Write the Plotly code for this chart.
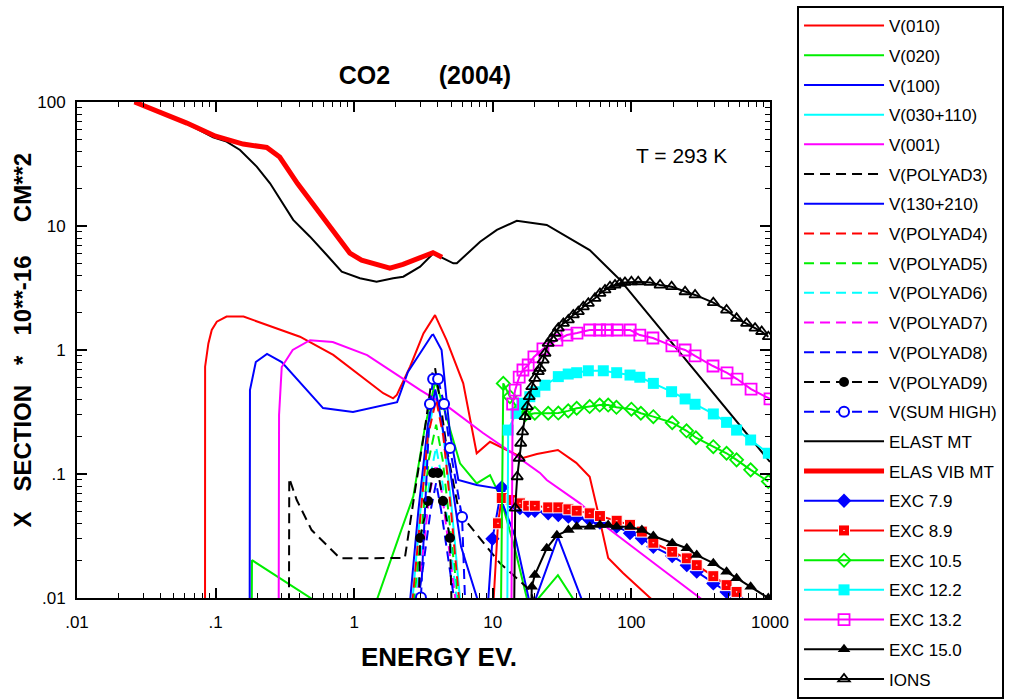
import plotly.graph_objects as go

FONT = "Liberation Sans, Arial, sans-serif"

# ---------------- data (energy eV, cross section 1e-16 cm^2) ----------------
E_v010 = [0.0839, 0.084, 0.0887, 0.0938, 0.102, 0.120, 0.159, 0.234, 0.406, 0.706, 1.23, 1.62, 1.91,
          2.03, 2.53, 3.16, 3.83, 4.64, 6.12, 7.65, 9.55, 13.3, 16.5, 20.8, 29.5, 40, 50, 57, 68, 87, 136, 170]
S_v010 = [0.005, 0.733, 1.13, 1.45, 1.69, 1.86, 1.86, 1.59, 1.28, 0.912, 0.573, 0.448, 0.408,
          0.434, 0.733, 1.36, 1.91, 1.2, 0.538, 0.147, 0.182, 0.151, 0.135, 0.145, 0.156, 0.123, 0.095, 0.051, 0.021, 0.0159, 0.01, 0.008]

E_v020 = [0.182, 0.183, 0.52, 1.45, 2.14, 2.67, 3.24, 3.85, 4.4, 5.8, 7.65, 9.55, 11.3, 14.5, 18.0, 19.8, 29.5, 40]
S_v020 = [0.005, 0.0202, 0.0095, 0.0095, 0.033, 0.066, 0.24, 0.56, 0.35, 0.122, 0.084, 0.098, 0.066, 0.0244, 0.009, 0.009, 0.0153, 0.009]

E_v100 = [0.176, 0.177, 0.195, 0.235, 0.30, 0.596, 0.98, 2.04, 2.44, 3.64, 3.72, 4.27, 4.91, 5.64, 7.65, 10.7,
          14.5, 18.5, 19.8, 29.5, 45]
S_v100 = [0.005, 0.475, 0.80, 0.93, 0.80, 0.34, 0.316, 0.38, 0.665, 1.32, 1.33, 1.0, 0.213, 0.0895, 0.0815, 0.0767,
          0.0312, 0.009, 0.009, 0.031, 0.009]

E_v030 = [2.5, 3.0, 3.5, 3.9, 4.3, 5.0, 5.9]
S_v030 = [0.005, 0.05, 0.25, 0.45, 0.25, 0.06, 0.008]

E_v001 = [0.285, 0.287, 0.30, 0.36, 0.48, 0.70, 1.24, 2.14, 3.0, 4.9, 8.5, 13.5, 21.9, 24.5, 42.6, 66.7, 110, 169, 313, 400]
S_v001 = [0.005, 0.3, 0.73, 1.0, 1.2, 1.16, 0.91, 0.605, 0.475, 0.34, 0.214, 0.150, 0.102, 0.0895, 0.058, 0.037, 0.0244, 0.0168, 0.01, 0.008]

E_p3 = [0.338, 0.34, 0.385, 0.493, 0.79, 2.32, 2.75, 3.25, 3.7, 3.83, 4.16, 4.67, 5.6, 6.6, 11.3, 18.5, 21]
S_p3 = [0.005, 0.0923, 0.0617, 0.0353, 0.0209, 0.021, 0.074, 0.24, 0.69, 0.72, 0.395, 0.156, 0.055, 0.040, 0.019, 0.0116, 0.008]

E_v130 = [2.4, 2.9, 3.4, 3.85, 4.3, 4.9, 5.9, 7.8, 8.5]
S_v130 = [0.005, 0.05, 0.25, 0.48, 0.25, 0.11, 0.026, 0.01, 0.007]

E_p4 = [2.5, 2.9, 3.4, 3.9, 4.4, 5.0, 5.8]
S_p4 = [0.005, 0.03, 0.2, 0.40, 0.2, 0.05, 0.008]

E_p5 = [2.55, 2.95, 3.45, 3.9, 4.35, 4.95, 5.7]
S_p5 = [0.005, 0.025, 0.13, 0.25, 0.13, 0.035, 0.008]

E_p6 = [2.6, 3.0, 3.5, 3.9, 4.3, 4.9, 5.6]
S_p6 = [0.005, 0.02, 0.09, 0.165, 0.09, 0.03, 0.008]

E_p7 = [2.6, 3.05, 3.5, 3.9, 4.3, 4.85, 5.5]
S_p7 = [0.005, 0.018, 0.07, 0.12, 0.07, 0.025, 0.008]

E_p8 = [2.65, 3.1, 3.55, 3.9, 4.25, 4.8, 5.4]
S_p8 = [0.005, 0.016, 0.05, 0.085, 0.05, 0.02, 0.008]

E_p9 = [2.9, 2.99, 3.41, 3.71, 4.03, 4.37, 4.91, 5.1]
S_p9 = [0.005, 0.0305, 0.0605, 0.102, 0.102, 0.0605, 0.0305, 0.005]

E_sum = [3.03, 3.52, 3.71, 4.03, 4.45, 4.91, 6.0, 6.4]
S_sum = [0.0101, 0.367, 0.583, 0.583, 0.367, 0.162, 0.045, 0.006]

E_elast = [0.026, 0.04, 0.062, 0.096, 0.120, 0.150, 0.198, 0.247, 0.363, 0.48, 0.634, 0.813, 1.10, 1.45, 1.91, 2.26,
           2.99, 3.73, 4.40, 5.19, 5.5, 8.1, 10.7, 14.9, 24.5, 34.1, 50, 74, 82.8, 1000]
S_elast = [100, 83, 67, 51.9, 47.9, 41, 30.1, 22.1, 11.2, 8.2, 5.84, 4.29, 3.79, 3.56, 3.79, 3.9,
           4.7, 6.03, 5.49, 5.0, 5.0, 7.47, 9.3, 11.0, 10.2, 8.2, 6.4, 4.16, 3.68, 0.125]

E_vibmt = [0.026, 0.040, 0.062, 0.1, 0.158, 0.234, 0.29, 0.39, 0.50, 0.70, 0.93, 1.13, 1.81, 2.25, 3.0, 3.7, 4.3]
S_vibmt = [100, 83, 67.6, 53, 45.8, 43, 36, 22, 15.3, 9.3, 6.05, 5.3, 4.58, 4.9, 5.6, 6.1, 5.6]

E_x79 = [8.9, 9.94, 11.6, 13.7, 15.7, 18, 20.1, 25.1, 29.7, 35.1, 40.3, 50, 59.3, 78.3, 97.7, 119, 144, 197, 251, 296, 390, 486, 574]
S_x79 = [0.005, 0.030, 0.078, 0.058, 0.053, 0.0505, 0.0505, 0.0482, 0.0467, 0.0453, 0.0446, 0.0425, 0.0405, 0.0376,
         0.0333, 0.0303, 0.0259, 0.0218, 0.0184, 0.0163, 0.0131, 0.0112, 0.00995]

E_x89 = [9.8, 10.9, 11.6, 13.7, 15.7, 18.0, 20.1, 25.1, 29.7, 35.1, 40.3, 50, 59.3, 78.3, 97.7, 119, 144, 197, 251, 296, 390, 486, 574]
S_x89 = [0.005, 0.040, 0.064, 0.0617, 0.058, 0.0555, 0.0555, 0.0538, 0.0538, 0.0519, 0.0506, 0.0482, 0.0458, 0.042,
         0.0389, 0.0343, 0.0279, 0.0236, 0.0209, 0.0184, 0.0150, 0.0127, 0.0112]

E_x105 = [11.4, 11.9, 13.3, 15.3, 17.1, 20.1, 25.1, 29.7, 35, 40.3, 50, 59, 68, 78, 100, 117, 144, 197, 250, 292, 390, 486, 574, 725, 973]
S_x105 = [0.005, 0.538, 0.42, 0.328, 0.30, 0.309, 0.309, 0.31, 0.323, 0.339, 0.35, 0.36, 0.36, 0.345, 0.333, 0.309,
          0.29, 0.259, 0.223, 0.196, 0.166, 0.147, 0.13, 0.108, 0.087]

E_x122 = [12.7, 12.9, 14.7, 16.2, 18.5, 20.1, 23.8, 29.7, 35, 40.3, 48.9, 62.7, 78.3, 97.7, 115, 144, 195, 244, 288, 390, 486, 574, 725, 973]
S_x122 = [0.005, 0.226, 0.308, 0.372, 0.42, 0.46, 0.52, 0.61, 0.64, 0.656, 0.68, 0.68, 0.656, 0.628, 0.603, 0.538,
          0.461, 0.403, 0.365, 0.305, 0.261, 0.226, 0.188, 0.147]

E_x132 = [13.6, 13.9, 14.5, 15.5, 16.5, 18, 19.8, 23, 29, 34.3, 40.5, 50, 59, 67, 79, 98, 115, 143, 196, 244, 288, 388, 490, 578, 730, 1000]
S_x132 = [0.005, 0.367, 0.475, 0.605, 0.69, 0.757, 0.88, 1.02, 1.2, 1.32, 1.37, 1.45, 1.45, 1.45, 1.45, 1.45, 1.32,
          1.25, 1.08, 1.0, 0.895, 0.743, 0.653, 0.583, 0.484, 0.403]

E_x150 = [18.8, 19.1, 20.1, 24.5, 29, 35.1, 40.3, 50, 59.3, 68, 78.3, 97.7, 119, 144, 197, 251, 296, 390, 486, 574, 725, 973]
S_x150 = [0.005, 0.0123, 0.0153, 0.0252, 0.032, 0.0353, 0.0376, 0.0376, 0.0388, 0.0388, 0.0376, 0.0376, 0.0353,
          0.0316, 0.0276, 0.0252, 0.0222, 0.0191, 0.0163, 0.0144, 0.0123, 0.0100]

E_ions = [14.2, 14.5, 15.0, 15.5, 15.9, 16.4, 17.1, 17.7, 18.3, 19.1, 20.1, 21.3, 21.9, 23.1, 23.8, 25.1, 26.6, 28.1,
          29.7, 32.3, 35.1, 38.1, 41.4, 45, 48.9, 54.6, 59.3, 64.5, 70.1, 76.2, 82.8, 89.9, 100, 112, 136, 161, 195,
          244, 288, 390, 486, 574, 678, 780, 871, 973]
S_ions = [0.005, 0.053, 0.095, 0.134, 0.177, 0.219, 0.29, 0.35, 0.42, 0.506, 0.591, 0.669, 0.711, 0.83, 0.94, 1.13,
          1.24, 1.36, 1.50, 1.64, 1.75, 1.92, 2.04, 2.23, 2.38, 2.61, 2.86, 3.05, 3.24, 3.34, 3.45, 3.51, 3.55, 3.55,
          3.51, 3.34, 3.24, 2.95, 2.78, 2.41, 2.10, 1.80, 1.64, 1.50, 1.41, 1.28]

X_TICKS = [0.01, 0.1, 1, 10, 100, 1000]
X_TICKTEXT = [".01", ".1", "1", "10", "100", "1000"]
Y_TICKS = [0.01, 0.1, 1, 10, 100]
Y_TICKTEXT = [".01", ".1", "1", "10", "100"]

RED, GREEN, BLUE, CYAN, MAG, BLK = "#ff0000", "#00ee00", "#0000ff", "#00ffff", "#ff00ff", "#000000"
DASH = "10px,6px"
LW = 2

fig = go.Figure()


def add(name, x, y, color, width=LW, dash="solid", symbol=None, msize=10, mcolor=None, mline=None, mlw=1.8):
    kw = dict(x=x, y=y, name=name, legendgroup=name,
              line=dict(color=color, width=width, dash=dash))
    if symbol is None:
        kw["mode"] = "lines"
    else:
        kw["mode"] = "lines+markers"
        kw["marker"] = dict(symbol=symbol, size=msize, color=mcolor or color,
                            line=dict(color=mline or color, width=mlw))
    fig.add_trace(go.Scatter(**kw))


add("V(010)", E_v010, S_v010, RED)
add("V(020)", E_v020, S_v020, GREEN)
add("V(100)", E_v100, S_v100, BLUE)
add("V(030+110)", E_v030, S_v030, CYAN)
add("V(001)", E_v001, S_v001, MAG)
add("V(POLYAD3)", E_p3, S_p3, BLK, dash=DASH)
add("V(130+210)", E_v130, S_v130, BLUE)
add("V(POLYAD4)", E_p4, S_p4, RED, dash=DASH)
add("V(POLYAD5)", E_p5, S_p5, GREEN, dash=DASH)
add("V(POLYAD6)", E_p6, S_p6, CYAN, dash=DASH)
add("V(POLYAD7)", E_p7, S_p7, MAG, dash=DASH)
add("V(POLYAD8)", E_p8, S_p8, BLUE, dash=DASH)
add("V(POLYAD9)", E_p9, S_p9, BLK, dash=DASH, symbol="circle", msize=10, mlw=0)
add("V(SUM HIGH)", E_sum, S_sum, BLUE, dash=DASH, symbol="circle", msize=10, mcolor="white", mline=BLUE, mlw=2)
add("ELAST MT", E_elast, S_elast, BLK)
add("ELAS VIB MT", E_vibmt, S_vibmt, RED, width=5)
add("EXC 7.9", E_x79, S_x79, BLUE, symbol="diamond", msize=11, mlw=0)
add("EXC 8.9", E_x89, S_x89, RED, symbol="square-dot", msize=11, mline="white", mlw=1)
add("EXC 10.5", E_x105, S_x105, GREEN, symbol="diamond-open", msize=10)
add("EXC 12.2", E_x122, S_x122, CYAN, symbol="square", msize=11, mlw=0)
add("EXC 13.2", E_x132, S_x132, MAG, symbol="square-open", msize=11)
add("EXC 15.0", E_x150, S_x150, BLK, symbol="triangle-up", msize=11, mlw=0)
add("IONS", E_ions, S_ions, BLK, symbol="triangle-up-open", msize=10)

minor_vals = [m * 10 ** d for d in range(-2, 3) for m in range(2, 10)]

axis_common = dict(
    type="log", showgrid=False, zeroline=False,
    showline=True, linecolor="black", linewidth=2, mirror="allticks",
    ticks="inside", ticklen=10, tickwidth=1.5, tickcolor="black",
    tickfont=dict(family=FONT, size=17, color="black"),
    tickmode="array",
)

fig.update_xaxes(**axis_common, range=[-2, 3], tickvals=X_TICKS, ticktext=X_TICKTEXT,
                 ticklabelstandoff=8,
                 minor=dict(tickmode="array", tickvals=minor_vals, ticks="inside", ticklen=5,
                            tickwidth=1.2, tickcolor="black", showgrid=False))
fig.update_yaxes(**axis_common, range=[-2, 2], tickvals=Y_TICKS, ticktext=Y_TICKTEXT,
                 ticklabelstandoff=6,
                 minor=dict(tickmode="array", tickvals=minor_vals, ticks="inside", ticklen=5,
                            tickwidth=1.2, tickcolor="black", showgrid=False))

fig.update_layout(
    width=1021, height=699,
    margin=dict(l=77, r=251, t=102, b=101, pad=0, autoexpand=False),
    paper_bgcolor="white", plot_bgcolor="white",
    font=dict(family=FONT, color="black"),
    title=dict(text="<b>CO2\u00a0\u00a0\u00a0\u00a0\u00a0\u00a0\u00a0(2004)</b>",
               font=dict(family=FONT, size=25, color="black"),
               xref="paper", x=0.502, xanchor="center",
               yref="container", y=1 - 75 / 699, yanchor="middle"),
    legend=dict(x=1.039, y=1 + (102 - 6) / 496, xanchor="left", yanchor="top",
                bordercolor="black", borderwidth=2, bgcolor="white",
                font=dict(family=FONT, size=17, color="black"),
                itemwidth=80, tracegroupgap=4.6, traceorder="grouped",
                maxheight=1000,
                itemclick=False, itemdoubleclick=False),
    annotations=[
        dict(text="T = 293 K", xref="paper", yref="paper", x=0.873, y=0.893,
             showarrow=False, font=dict(family=FONT, size=21, color="black"),
             xanchor="center", yanchor="middle"),
        dict(text="<b>X\u00a0\u00a0\u00a0SECTION\u00a0\u00a0\u00a0*\u00a0\u00a0\u00a010**-16\u00a0\u00a0\u00a0\u00a0\u00a0CM**2</b>",
             xref="paper", yref="paper", x=(22.5 - 77) / 693, y=0.52, textangle=-90,
             showarrow=False, font=dict(family=FONT, size=24, color="black"),
             xanchor="center", yanchor="middle"),
        dict(text="<b>ENERGY EV.</b>", xref="paper", yref="paper", x=0.522, y=(598 - 657) / 496,
             showarrow=False, font=dict(family=FONT, size=26, color="black"),
             xanchor="center", yanchor="middle"),
    ],
)

fig.write_html("out.html")
